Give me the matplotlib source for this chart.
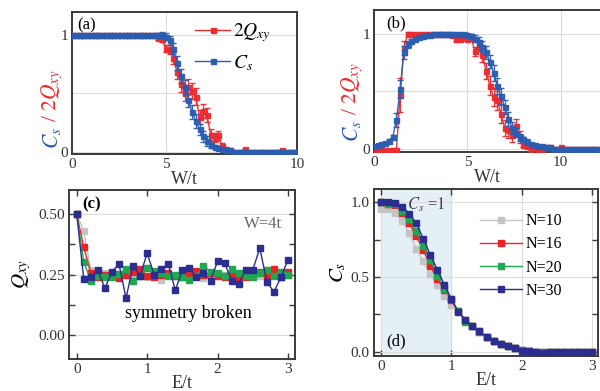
import numpy as np
import matplotlib
matplotlib.use("Agg")
import matplotlib.pyplot as plt
from matplotlib.lines import Line2D

plt.rcParams['font.family'] = ['Liberation Serif', 'DejaVu Serif']
plt.rcParams['mathtext.fontset'] = 'stix'

# ---------------- data: panels (a) and (b) ----------------
W = [round(0.2 * i, 1) for i in range(61)]  # 0 .. 12

cs_a = [1.0, 1.0, 1.0, 1.0, 1.0, 1.0, 1.0, 1.0, 1.0, 1.0,
        1.0, 1.0, 1.0, 1.0, 1.0, 1.0, 1.0, 1.0, 1.0, 1.0,
        1.0, 1.0, 1.0, 1.0, 1.0, 0.98, 0.95, 0.88, 0.76, 0.65,
        0.55, 0.44, 0.34, 0.26, 0.19, 0.13, 0.09, 0.06, 0.04, 0.03,
        0.02, 0.01, 0.01, 0.0, 0.0, 0.0, 0.0, 0.0, 0.0, 0.0,
        0.0, 0.0, 0.0, 0.0, 0.0, 0.0, 0.0, 0.0, 0.0, 0.0, 0.0]
cs_a_err = [0.0, 0.0, 0.0, 0.0, 0.0, 0.0, 0.0, 0.0, 0.0, 0.0,
            0.0, 0.0, 0.0, 0.0, 0.0, 0.0, 0.0, 0.0, 0.0, 0.0,
            0.0, 0.0, 0.0, 0.01, 0.02, 0.03, 0.04, 0.05, 0.06, 0.06,
            0.06, 0.06, 0.06, 0.06, 0.05, 0.05, 0.04, 0.03, 0.02, 0.02,
            0.01, 0.01, 0.01, 0.0, 0.0, 0.0, 0.0, 0.0, 0.0, 0.0,
            0.0, 0.0, 0.0, 0.0, 0.0, 0.0, 0.0, 0.0, 0.0, 0.0, 0.0]
q_a = [1.0, 1.0, 1.0, 1.0, 1.0, 1.0, 1.0, 1.0, 1.0, 1.0,
       1.0, 1.0, 1.0, 1.0, 1.0, 1.0, 1.0, 1.0, 1.0, 1.0,
       1.0, 1.0, 1.0, 0.97, 0.96, 0.88, 0.87, 0.80, 0.68, 0.58,
       0.50, 0.55, 0.52, 0.47, 0.30, 0.35, 0.31, 0.14, 0.12, 0.14,
       0.05, 0.02, 0.01, 0.0, 0.0, 0.0, 0.02, 0.0, 0.0, 0.0,
       0.0, 0.0, 0.0, 0.0, 0.0, 0.0, 0.01, 0.0, 0.0, 0.0, 0.0]
q_a_err = [0.0, 0.0, 0.0, 0.0, 0.0, 0.0, 0.0, 0.0, 0.0, 0.0,
           0.0, 0.0, 0.0, 0.0, 0.0, 0.0, 0.0, 0.0, 0.0, 0.0,
           0.0, 0.0, 0.0, 0.02, 0.02, 0.03, 0.04, 0.05, 0.06, 0.07,
           0.07, 0.07, 0.07, 0.07, 0.06, 0.06, 0.06, 0.05, 0.04, 0.04,
           0.02, 0.01, 0.01, 0.0, 0.0, 0.0, 0.0, 0.0, 0.0, 0.0,
           0.0, 0.0, 0.0, 0.0, 0.0, 0.0, 0.0, 0.0, 0.0, 0.0, 0.0]

cs_b = [0.02, 0.03, 0.04, 0.05, 0.07, 0.10, 0.25, 0.52, 0.84, 0.91,
        0.94, 0.96, 0.97, 0.98, 0.99, 0.99, 1.0, 1.0, 1.0, 1.0,
        1.0, 1.0, 1.0, 1.0, 1.0, 0.99, 0.98, 0.96, 0.93, 0.89,
        0.84, 0.76, 0.66, 0.55, 0.46, 0.36, 0.26, 0.18, 0.14, 0.10,
        0.08, 0.06, 0.04, 0.03, 0.02, 0.02, 0.01, 0.01, 0.0, 0.0,
        0.0, 0.0, 0.0, 0.0, 0.0, 0.0, 0.0, 0.0, 0.0, 0.0, 0.0]
cs_b_err = [0.0, 0.0, 0.0, 0.01, 0.01, 0.02, 0.06, 0.08, 0.06, 0.03,
            0.02, 0.01, 0.01, 0.0, 0.0, 0.0, 0.0, 0.0, 0.0, 0.0,
            0.0, 0.0, 0.0, 0.0, 0.0, 0.01, 0.02, 0.03, 0.04, 0.05,
            0.06, 0.06, 0.07, 0.07, 0.07, 0.06, 0.06, 0.05, 0.04, 0.03,
            0.02, 0.02, 0.01, 0.01, 0.01, 0.0, 0.0, 0.0, 0.0, 0.0,
            0.0, 0.0, 0.0, 0.0, 0.0, 0.0, 0.0, 0.0, 0.0, 0.0, 0.0]
q_b = [-0.01, -0.01, -0.01, -0.01, -0.01, -0.01, -0.01, 0.47, 0.88, 1.0,
       1.0, 1.0, 1.0, 1.0, 1.0, 1.0, 1.0, 1.0, 1.0, 1.0,
       1.0, 0.99, 0.96, 0.96, 0.97, 0.96, 0.97, 0.85, 0.90, 0.82,
       0.68, 0.55, 0.45, 0.42, 0.30, 0.18, 0.16, 0.12, 0.20, 0.10,
       0.03, 0.02, 0.0, 0.01, 0.0, 0.0, 0.01, 0.01, 0.0, 0.0,
       0.01, 0.0, 0.0, 0.0, 0.0, 0.0, 0.0, 0.0, 0.0, 0.0, 0.0]
q_b_err = [0.0, 0.0, 0.0, 0.0, 0.0, 0.0, 0.0, 0.15, 0.06, 0.02,
           0.0, 0.0, 0.0, 0.0, 0.0, 0.0, 0.0, 0.0, 0.0, 0.0,
           0.0, 0.01, 0.02, 0.02, 0.02, 0.02, 0.03, 0.04, 0.05, 0.06,
           0.07, 0.08, 0.08, 0.08, 0.08, 0.07, 0.07, 0.06, 0.06, 0.05,
           0.02, 0.01, 0.0, 0.0, 0.0, 0.0, 0.0, 0.0, 0.0, 0.0,
           0.0, 0.0, 0.0, 0.0, 0.0, 0.0, 0.0, 0.0, 0.0, 0.0, 0.0]

# ---------------- data: panels (c) and (d) ----------------
E = [round(0.1 * i, 1) for i in range(31)]  # 0 .. 3
sizes = ['N=10', 'N=16', 'N=20', 'N=30']

qxy_N10 = [0.50, 0.43, 0.27, 0.255, 0.255, 0.25, 0.25, 0.25, 0.245, 0.25,
           0.24, 0.25, 0.228, 0.25, 0.245, 0.25, 0.255, 0.25, 0.237, 0.25,
           0.245, 0.25, 0.255, 0.245, 0.25, 0.25, 0.245, 0.25, 0.255, 0.24, 0.25]
qxy_N16 = [0.50, 0.362, 0.258, 0.239, 0.249, 0.242, 0.235, 0.249, 0.262, 0.273,
           0.245, 0.239, 0.249, 0.256, 0.245, 0.239, 0.256, 0.265, 0.249, 0.256,
           0.245, 0.239, 0.249, 0.239, 0.239, 0.249, 0.262, 0.249, 0.273, 0.239, 0.262]
qxy_N20 = [0.50, 0.301, 0.225, 0.245, 0.239, 0.239, 0.253, 0.272, 0.225, 0.245,
           0.276, 0.265, 0.258, 0.245, 0.249, 0.239, 0.228, 0.245, 0.286, 0.262,
           0.256, 0.245, 0.272, 0.258, 0.245, 0.239, 0.256, 0.267, 0.245, 0.262, 0.249]
qxy_N30 = [0.50, 0.23, 0.238, 0.267, 0.193, 0.262, 0.293, 0.152, 0.287, 0.245,
           0.338, 0.249, 0.273, 0.294, 0.184, 0.269, 0.276, 0.238, 0.256, 0.225,
           0.304, 0.297, 0.225, 0.211, 0.269, 0.269, 0.359, 0.221, 0.177, 0.239, 0.311]

cs_N10 = [0.956, 0.956, 0.927, 0.871, 0.793, 0.687, 0.604, 0.52, 0.449, 0.376,
          0.316, 0.27, 0.21, 0.17, 0.135, 0.1, 0.072, 0.054, 0.038, 0.025,
          0.01, 0.005, 0.003, 0.0, 0.0, 0.0, 0.0, 0.0, 0.0, 0.0, 0.0]
cs_N16 = [1.0, 0.99, 0.982, 0.927, 0.86, 0.771, 0.682, 0.576, 0.487, 0.416,
          0.349, 0.27, 0.21, 0.17, 0.137, 0.1, 0.072, 0.054, 0.038, 0.024,
          0.01, 0.005, 0.003, 0.0, 0.0, 0.0, 0.0, 0.0, 0.0, 0.0, 0.0]
cs_N20 = [1.0, 0.99, 0.985, 0.94, 0.887, 0.804, 0.704, 0.611, 0.509, 0.422,
          0.35, 0.272, 0.2, 0.172, 0.135, 0.102, 0.072, 0.055, 0.04, 0.024,
          0.012, 0.005, 0.003, 0.0, 0.0, 0.0, 0.0, 0.0, 0.0, 0.0, 0.0]
cs_N30 = [1.0, 1.0, 0.993, 0.97, 0.922, 0.86, 0.756, 0.649, 0.549, 0.449,
          0.353, 0.264, 0.216, 0.171, 0.138, 0.098, 0.071, 0.053, 0.038, 0.024,
          0.009, 0.004, 0.003, -0.004, 0.0, 0.0, 0.0, 0.0, 0.0, 0.0, 0.0]

BLUE = '#2a5db0'
RED = '#ee2a2e'
N_COLORS = ['#c4c4c4', '#ee2024', '#1fa84e', '#2b2d91']
SPINE = '#3a3a3a'
GRID = '#dcdcdc'

W_PX, H_PX = 600, 391
fig = plt.figure(figsize=(6.0, 3.91), dpi=100)


def axes_px(left, top, right, bottom):
    return fig.add_axes([left / W_PX, 1 - bottom / H_PX,
                         (right - left) / W_PX, (bottom - top) / H_PX])


def style(ax, grid_x=True):
    for s in ax.spines.values():
        s.set_color(SPINE)
        s.set_linewidth(1.4)
    ax.grid(True, color=GRID, lw=0.8)
    if not grid_x:
        ax.xaxis.grid(False)
    ax.set_axisbelow(True)
    ax.tick_params(direction='in', length=4, width=1, colors=SPINE,
                   labelsize=11, labelcolor='#333333', pad=3)


def two_color_ylabel(ax, x_px, y_bottom_px, size=15.5):
    t1 = fig.text(x_px / W_PX, 1 - y_bottom_px / H_PX, r'$C_s$', color=BLUE,
                  rotation=90, rotation_mode='anchor', ha='left', va='center',
                  fontsize=size)
    ax.annotate(r' / $2Q_{xy}$', xy=(0.5, 1.0), xycoords=t1, color=RED,
                rotation=90, rotation_mode='anchor', ha='left', va='center',
                fontsize=size, annotation_clip=False)


def ab_panel(ax, cs, cs_err, q, q_err):
    ax.errorbar(W, q, yerr=q_err, color=RED, marker='s', ms=3.6, lw=1.0,
                elinewidth=0.9, capsize=2, ecolor=RED, alpha=0.95, zorder=3,
                label=r'$2Q_{xy}$')
    ax.errorbar(W, cs, yerr=cs_err, color=BLUE, marker='s', ms=3.6, lw=1.0,
                elinewidth=0.9, capsize=2, ecolor=BLUE, alpha=0.95, zorder=4,
                label=r'$C_s$')


# ---------------- (a) ----------------
ax_a = axes_px(72, 12, 297, 154)
ab_panel(ax_a, cs_a, cs_a_err, q_a, q_a_err)
ax_a.set_xlim(0, 12)
ax_a.set_ylim(-0.02, 1.193)
ax_a.set_xticks([0, 5, 12])
ax_a.set_xticklabels(['0', '5', '10'])
ax_a.set_yticks([0, 0.5, 1])
ax_a.set_yticklabels(['0', '', '1'])
style(ax_a)
ax_a.tick_params(length=0)
ax_a.set_xlabel('W/t', fontsize=13, color='#333333', labelpad=0)
ax_a.text(0.025, 0.96, '(a)', transform=ax_a.transAxes, fontsize=12,
          ha='left', va='top')
h_q = Line2D([], [], color=RED, marker='s', ms=3.6, lw=1.0)
h_c = Line2D([], [], color=BLUE, marker='s', ms=3.6, lw=1.0)
ax_a.legend([h_q, h_c], [r'$2Q_{xy}$', r'$C_s$'], loc='upper left',
            bbox_to_anchor=(0.547, 0.935), frameon=False, fontsize=14,
            borderpad=0, borderaxespad=0,
            handlelength=1.8, handletextpad=0.15, labelspacing=0.45)
two_color_ylabel(ax_a, 52, 149)

# ---------------- (b) ----------------
ax_b = axes_px(374, 10, 600, 152)
ab_panel(ax_b, cs_b, cs_b_err, q_b, q_b_err)
ax_b.set_xlim(0, 12.1)
ax_b.set_ylim(-0.03, 1.21)
ax_b.set_xticks([0, 5, 10])
ax_b.set_yticks([0, 0.5, 1])
ax_b.set_yticklabels(['0', '', '1'])
style(ax_b)
ax_b.tick_params(length=0)
ax_b.spines['right'].set_visible(False)
ax_b.set_xlabel('W/t', fontsize=13, color='#333333', labelpad=0)
ax_b.text(0.055, 0.96, '(b)', transform=ax_b.transAxes, fontsize=12,
          ha='left', va='top')
two_color_ylabel(ax_b, 352, 142)

# ---------------- (c) ----------------
ax_c = axes_px(69, 190, 295, 359)
series_c = [qxy_N10, qxy_N16, qxy_N20, qxy_N30]
for vals, col, lab in zip(series_c, N_COLORS, sizes):
    ax_c.plot(E, vals, color=col, marker='s', ms=4.3, lw=1.0, label=lab)
ax_c.set_xlim(-0.11, 3.1)
ax_c.set_ylim(-0.1, 0.6)
ax_c.set_xticks([0, 1, 2, 3])
ax_c.set_yticks([0.0, 0.25, 0.5])
ax_c.set_yticklabels(['0.00', '0.25', '0.50'])
ax_c.set_yticks([0.125, 0.375], minor=True)
style(ax_c, grid_x=False)
ax_c.tick_params(which='both', right=True, top=True, direction='in')
ax_c.tick_params(which='minor', length=4, width=1, colors=SPINE)
ax_c.set_xlabel('E/t', fontsize=13, color='#333333', labelpad=-1)
ax_c.set_ylabel(r'$Q_{xy}$', fontsize=15, labelpad=4)
ax_c.text(0.06, 0.965, '(c)', transform=ax_c.transAxes, fontsize=12,
          fontweight='bold', ha='left', va='top')
ax_c.text(0.86, 0.80, 'W=4t', transform=ax_c.transAxes, fontsize=12,
          color='#666666', ha='center', va='center')
ax_c.text(0.53, 0.27, 'symmetry broken', transform=ax_c.transAxes,
          fontsize=13, ha='center', va='center')

# ---------------- (d) ----------------
ax_d = axes_px(374, 189, 598, 356)
ax_d.axvspan(0, 1, color='#e5f0f6', zorder=0)
series_d = [cs_N10, cs_N16, cs_N20, cs_N30]
for vals, col, lab in zip(series_d, N_COLORS, sizes):
    ax_d.plot(E, vals, color=col, marker='s', ms=4.3, lw=1.0, label=lab)
ax_d.set_xlim(-0.1, 3.085)
ax_d.set_ylim(-0.027, 1.087)
ax_d.set_xticks([0, 1, 2, 3])
ax_d.set_yticks([0.0, 0.5, 1.0])
ax_d.set_yticks([0.25, 0.75], minor=True)
style(ax_d)
ax_d.tick_params(which='both', right=True, top=True, direction='in')
ax_d.tick_params(which='minor', length=4, width=1, colors=SPINE)
ax_d.set_xlabel('E/t', fontsize=13, color='#333333', labelpad=-1)
ax_d.set_ylabel(r'$C_s$', fontsize=15, labelpad=2)
ax_d.text(0.055, 0.04, '(d)', transform=ax_d.transAxes, fontsize=12,
          ha='left', va='bottom')
ax_d.text(0.235, 0.905, r'$C_s$ =$\mathit{1}$', transform=ax_d.transAxes,
          fontsize=12, color='#444444', ha='center', va='center')
ax_d.legend(loc='upper left', bbox_to_anchor=(0.475, 0.855), frameon=False,
            fontsize=11.5, borderpad=0, borderaxespad=0,
            handlelength=2.6, handletextpad=0.2, labelspacing=0.45)

fig.savefig('out.png', dpi=100)
